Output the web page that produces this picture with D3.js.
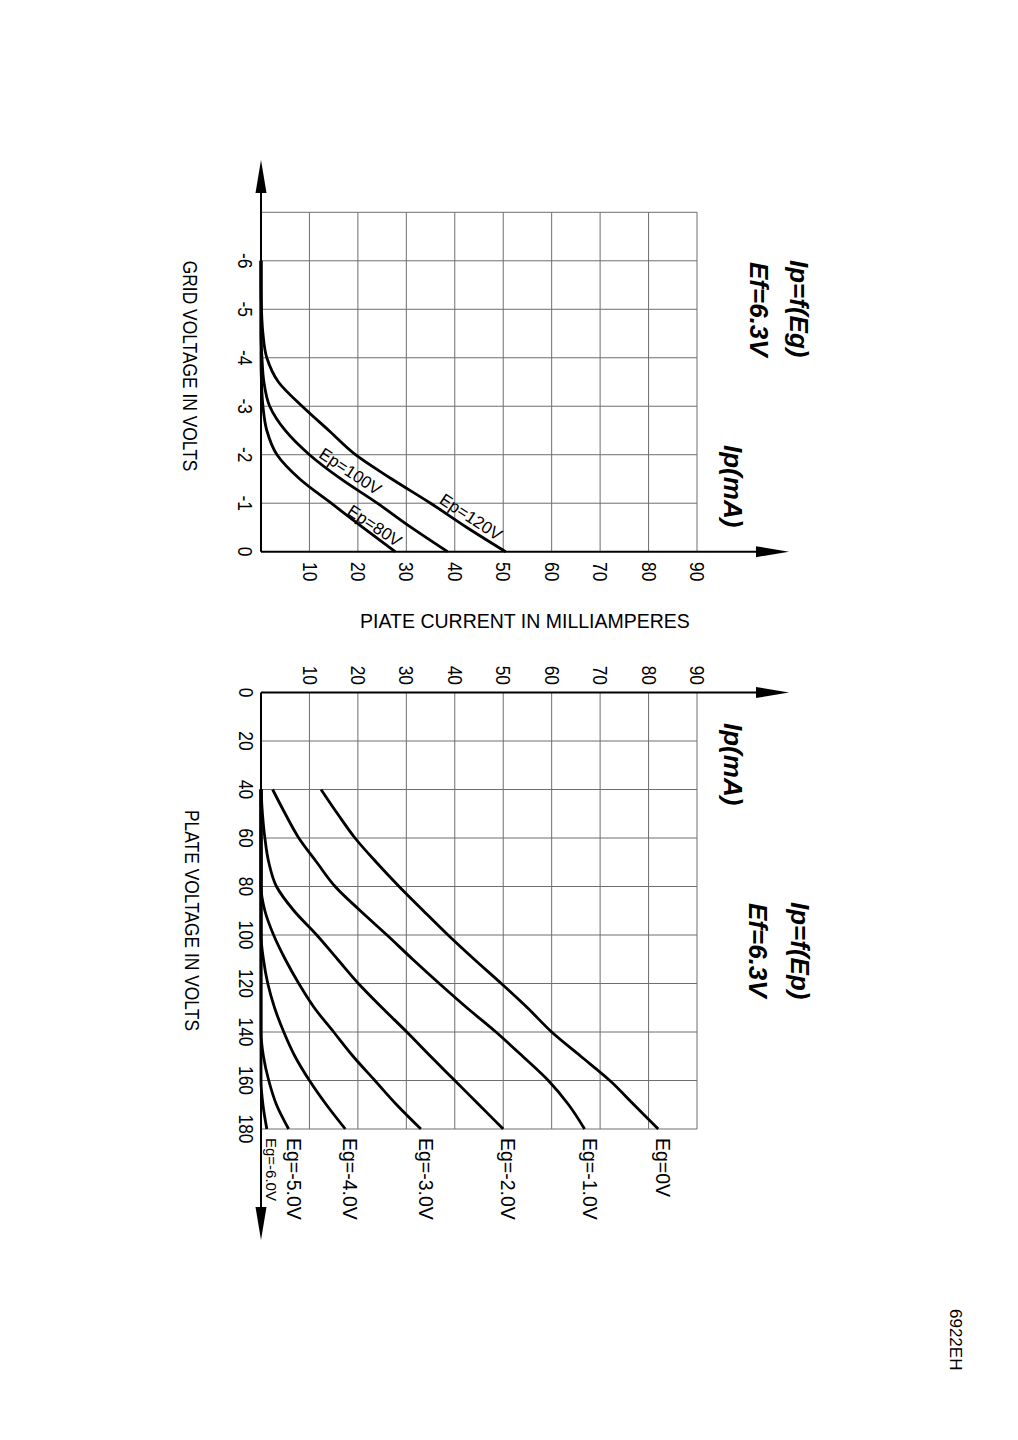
<!DOCTYPE html>
<html>
<head>
<meta charset="utf-8">
<script src="https://cdn.jsdelivr.net/npm/d3@7"></script>
<style>
  body { margin: 0; background: #fff; }
  text { font-family: "Liberation Sans", Arial, sans-serif; fill: #000; }
</style>
</head>
<body>
<script>
(function() {

// ---- data ----
var egTicks = [-6, -5, -4, -3, -2, -1, 0];
var ipTicks = [10, 20, 30, 40, 50, 60, 70, 80, 90];
var epTicks = [0, 20, 40, 60, 80, 100, 120, 140, 160, 180];

// Ip = f(Eg)
var egVals = [-6, -5.5, -5, -4.5, -4, -3.5, -3, -2.5, -2, -1.5, -1, -0.5, 0];
var ipEp120 = [0, 0, 0.1, 0.4, 1.2, 3.6, 8.5, 14, 19.5, 27, 35, 42.5, 50.5];
var ipEp100 = [0, 0, 0, 0, 0.2, 0.6, 1.8, 5, 10, 16.5, 24, 31, 38.5];
var ipEp80  = [0, 0, 0, 0, 0, 0.1, 0.4, 1.2, 3.3, 8, 14.5, 21, 27.7];
var epCurveNames = ["Ep=120V", "Ep=100V", "Ep=80V"];
var epLabelEg = [-0.71, -1.65, -0.53];
var epLabelIp = [43.3, 18.4, 23.4];

// Ip = f(Ep)
var epVals = [40, 50, 60, 70, 80, 90, 100, 110, 120, 130, 140, 150, 160, 170, 180];
var ipEg0 = [12.4, 15.8, 19.4, 23.8, 28.5, 33.5, 38.6, 44, 49.6, 55, 60, 66, 72, 77, 82];
var ipEg1 = [2.4, 5, 7.8, 11.5, 15.3, 20.5, 26, 31.3, 36.8, 42.5, 48.5, 54, 59.3, 63.5, 66.8];
var ipEg2 = [0, 0.3, 0.8, 1.6, 3.2, 6.8, 11.5, 15.8, 20.1, 25, 30.1, 35, 40, 45, 50];
var ipEg3 = [0, 0, 0, 0, 0, 0.8, 2.6, 5, 7.8, 11, 15, 19, 23.5, 28, 33];
var ipEg4 = [0, 0, 0, 0, 0, 0, 0, 0.5, 1.4, 2.8, 4.7, 7, 10, 13.5, 17.4];
var ipEg5 = [0, 0, 0, 0, 0, 0, 0, 0, 0, 0, 0, 0.5, 1.6, 3.2, 5.7];
var ipEg6 = [0, 0, 0, 0, 0, 0, 0, 0, 0, 0, 0, 0, 0, 0.4, 1.2];
var egCurveNames = ["Eg=0V", "Eg=-1.0V", "Eg=-2.0V", "Eg=-3.0V", "Eg=-4.0V", "Eg=-5.0V", "Eg=-6.0V"];

// ---- page: the sheet is printed landscape and turned a quarter ----
var width = 1018, height = 1440;

var svg = d3.select("body").append("svg")
  .attr("width", width)
  .attr("height", height);

// inner frame: u = page Y, v = width - page X
var page = svg.append("g")
  .attr("transform", "translate(" + width + ",0) rotate(90)");

var y  = d3.scaleLinear().domain([0, 90]).range([757, 321]);
var xg = d3.scaleLinear().domain([-7, 0]).range([212.3, 551.7]);
var xp = d3.scaleLinear().domain([0, 180]).range([692.5, 1129]);

var gridCol = "#6e6e6e",
    narrow = 0.87;   // lettering on the sheet is a little condensed

function arrow(g, x1, y1, x2, y2) {
  var dx = x2 - x1, dy = y2 - y1, len = Math.sqrt(dx*dx + dy*dy),
      ux = dx / len, uy = dy / len, hl = 33, hw = 5.5,
      bx = x2 - ux*hl, by = y2 - uy*hl;
  g.append("line")
    .attr("x1", x1).attr("y1", y1).attr("x2", bx).attr("y2", by)
    .attr("stroke", "#000").attr("stroke-width", 2);
  g.append("path")
    .attr("d", "M" + x2 + "," + y2 +
               "L" + (bx - uy*hw) + "," + (by + ux*hw) +
               "L" + (bx + uy*hw) + "," + (by - ux*hw) + "Z")
    .attr("fill", "#000");
}

function grid(g, xs, xTicks, yTicks) {
  var d = xs.domain();
  g.selectAll(null).data(xTicks).enter().append("line")
    .attr("x1", function(t) { return xs(t); })
    .attr("x2", function(t) { return xs(t); })
    .attr("y1", y(0)).attr("y2", y(90))
    .attr("stroke", gridCol).attr("stroke-width", 1);
  g.selectAll(null).data(yTicks).enter().append("line")
    .attr("x1", xs(d[0])).attr("x2", xs(d[1]))
    .attr("y1", function(t) { return y(t); })
    .attr("y2", function(t) { return y(t); })
    .attr("stroke", gridCol).attr("stroke-width", 1);
}

function at(x, y, k) {
  return "translate(" + x + "," + y + ") scale(" + k + ",1)";
}

function title(g, x, y, str) {
  g.append("text").attr("transform", at(x, y, 1))
    .attr("dominant-baseline", "central")
    .style("font-size", "26px").style("font-weight", "bold").style("font-style", "italic")
    .text(str);
}

// ---------- Ip = f(Eg) ----------
var top = page.append("g");
grid(top, xg, d3.range(-7, 0), ipTicks);

var lineG = d3.line()
  .x(function(d) { return xg(d[0]); })
  .y(function(d) { return y(d[1]); })
  .curve(d3.curveMonotoneX);

[ipEp120, ipEp100, ipEp80].forEach(function(s) {
  top.append("path")
    .datum(egVals.map(function(e, i) { return [e, s[i]]; }))
    .attr("d", lineG)
    .attr("fill", "none").attr("stroke", "#000").attr("stroke-width", 2.8)
    .attr("stroke-linejoin", "round");
});

arrow(top, xg(0), y(0), xg(0), 229);   // Ip axis
arrow(top, xg(0), y(0), 160, y(0));    // Eg axis

top.selectAll(null).data(egTicks).enter().append("text")
  .attr("transform", function(t) { return at(xg(t), 773, narrow); })
  .attr("text-anchor", "middle").attr("dominant-baseline", "central")
  .style("font-size", "20px")
  .text(function(t) { return t; });

top.selectAll(null).data(ipTicks).enter().append("text")
  .attr("transform", function(t) { return at(562, y(t), narrow); })
  .attr("dominant-baseline", "central")
  .style("font-size", "20px")
  .text(function(t) { return t; });

top.selectAll(null).data(epCurveNames).enter().append("text")
  .attr("transform", function(d, i) {
    return "translate(" + xg(epLabelEg[i]) + "," + y(epLabelIp[i]) + ") rotate(-56.5)";
  })
  .attr("text-anchor", "middle").attr("dominant-baseline", "central")
  .style("font-size", "17px")
  .text(function(d) { return d; });

top.append("text").attr("transform", at(xg(-6), 828, narrow))
  .attr("dominant-baseline", "central")
  .style("font-size", "20px").text("GRID VOLTAGE IN VOLTS");

title(top, 260, 219, "Ip=f(Eg)");
title(top, 262, 259, "Ef=6.3V");
title(top, 445, 285, "Ip(mA)");

// ---------- Ip = f(Ep) ----------
var bot = page.append("g");
grid(bot, xp, d3.range(20, 181, 20), ipTicks);

var lineP = d3.line()
  .x(function(d) { return xp(d[0]); })
  .y(function(d) { return y(d[1]); })
  .curve(d3.curveMonotoneX);

var egSeries = [ipEg0, ipEg1, ipEg2, ipEg3, ipEg4, ipEg5, ipEg6];
egSeries.forEach(function(s) {
  bot.append("path")
    .datum(epVals.map(function(e, i) { return [e, s[i]]; }))
    .attr("d", lineP)
    .attr("fill", "none").attr("stroke", "#000").attr("stroke-width", 2.8)
    .attr("stroke-linejoin", "round");
});

arrow(bot, xp(0), y(0), xp(0), 229);    // Ip axis
arrow(bot, xp(0), y(0), 1240, y(0));    // Ep axis

bot.selectAll(null).data(epTicks).enter().append("text")
  .attr("transform", function(t) { return at(xp(t), 772, narrow); })
  .attr("text-anchor", "middle").attr("dominant-baseline", "central")
  .style("font-size", "20px")
  .text(function(t) { return t; });

bot.selectAll(null).data(ipTicks).enter().append("text")
  .attr("transform", function(t) { return at(685, y(t), narrow); })
  .attr("text-anchor", "end").attr("dominant-baseline", "central")
  .style("font-size", "20px")
  .text(function(t) { return t; });

bot.selectAll(null).data(egCurveNames).enter().append("text")
  .attr("x", 1138)
  .attr("y", function(d, i) { var s = egSeries[i]; return y(s[s.length - 1]) - 5; })
  .attr("dominant-baseline", "central")
  .style("font-size", function(d, i) { return i === 6 ? "15px" : "19.5px"; })
  .text(function(d) { return d; });

bot.append("text").attr("transform", at(810, 826, narrow))
  .attr("dominant-baseline", "central")
  .style("font-size", "20px").text("PLATE VOLTAGE IN VOLTS");

title(bot, 902, 218, "Ip=f(Ep)");
title(bot, 903, 260, "Ef=6.3V");
title(bot, 723, 285, "Ip(mA)");

page.append("text").attr("x", 1309).attr("y", 63)
  .attr("dominant-baseline", "central")
  .style("font-size", "17px").text("6922EH");

// shared current label, printed upright between the two graphs
svg.append("text")
  .attr("x", 525).attr("y", 621)
  .attr("text-anchor", "middle").attr("dominant-baseline", "central")
  .style("font-size", "19.5px")
  .text("PIATE CURRENT IN MILLIAMPERES");

})();
</script>
</body>
</html>
